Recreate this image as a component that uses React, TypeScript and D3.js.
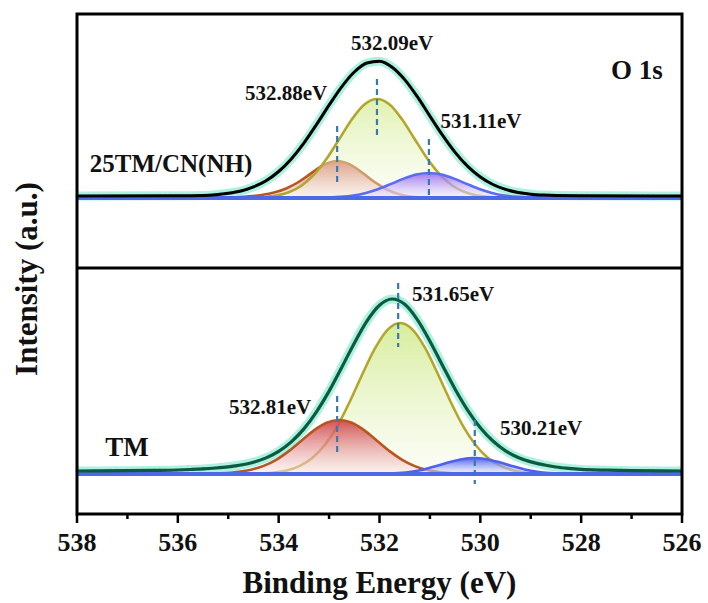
import React from 'react';
import * as d3 from 'd3';

// ---------- axis ----------
const majorTicks = [538, 536, 534, 532, 530, 528, 526];
const minorTicks = [537, 535, 533, 531, 529, 527];

// ---------- top panel: 25TM/CN(NH) ----------
const topEnvE = [538, 536, 535.5, 535.25, 535.0, 534.75, 534.5, 534.25, 534.0, 533.75, 533.5, 533.25, 533.0, 532.75, 532.5, 532.25, 532.0, 531.75, 531.5, 531.25, 531.0, 530.75, 530.5, 530.25, 530.0, 529.75, 529.5, 529.25, 529.0, 528.75, 528.5, 528, 526];
const topEnvI = [2.0, 2.2, 2.6, 3.3, 4.7, 7.0, 11.1, 17.3, 26.5, 39.1, 54.9, 73.4, 92.9, 111.2, 126.0, 135.0, 136.7, 130.8, 118.4, 101.3, 81.9, 62.8, 45.6, 31.6, 21.0, 13.5, 8.6, 5.5, 3.8, 2.9, 2.4, 2.2, 2.0];

const topGreenE = [534.8, 534.3, 534.05, 533.8, 533.55, 533.3, 533.05, 532.8, 532.55, 532.3, 532.05, 531.8, 531.55, 531.3, 531.05, 530.8, 530.55, 530.3, 530.05, 529.8, 529.3];
const topGreenI = [0, 0.9, 2.4, 5.8, 12.3, 23.3, 39.2, 58.8, 78.5, 93.5, 99, 93.5, 78.5, 58.8, 39.2, 23.3, 12.3, 5.8, 2.4, 0.9, 0];

const topRedE = [535.6, 535.09, 534.84, 534.59, 534.34, 534.09, 533.84, 533.59, 533.34, 533.09, 532.84, 532.59, 532.34, 532.09, 531.84, 531.59, 531.34, 531.09, 530.84, 530.59];
const topRedI = [0, 0.3, 0.8, 1.6, 3.0, 5.4, 9.8, 16.5, 25.3, 33.6, 37, 33.6, 25.3, 15.7, 8.1, 3.4, 1.2, 0.35, 0.1, 0];

const topBlueE = [533.5, 533.27, 533.02, 532.77, 532.52, 532.27, 532.02, 531.77, 531.52, 531.27, 531.02, 530.77, 530.52, 530.27, 530.02, 529.77, 529.52, 529.27, 529.02, 528.77, 528.5];
const topBlueI = [0, 0.1, 0.4, 1.1, 2.5, 5.1, 9.0, 14.1, 19.4, 23.5, 25, 23.5, 19.4, 14.1, 9.0, 5.1, 2.5, 1.1, 0.4, 0.1, 0];

const topPeakE = [532.05, 532.84, 531.02];
const topPeakText = ['532.09eV', '532.88eV', '531.11eV'];

// ---------- bottom panel: TM ----------
const botEnvE = [538, 537, 536.5, 536.0, 535.75, 535.5, 535.25, 535.0, 534.75, 534.5, 534.25, 534.0, 533.75, 533.5, 533.25, 533.0, 532.75, 532.5, 532.25, 532.0, 531.75, 531.5, 531.25, 531.0, 530.75, 530.5, 530.25, 530.0, 529.75, 529.5, 529.25, 529.0, 528.75, 528.5, 528.25, 528.0, 527.5, 527.0, 526];
const botEnvI = [3.0, 3.3, 3.6, 4.0, 4.5, 5.1, 6.0, 7.2, 9.0, 11.8, 16.1, 22.6, 32.1, 45.1, 62.2, 82.9, 106.5, 130.8, 152.9, 168.8, 175.0, 169.7, 154.4, 132.8, 108.5, 84.8, 63.7, 46.3, 33.0, 23.2, 16.5, 12.1, 9.2, 7.0, 5.6, 4.6, 3.8, 3.3, 3.0];

const botGreenE = [534.6, 534.09, 533.84, 533.59, 533.34, 533.09, 532.84, 532.59, 532.34, 532.09, 531.84, 531.59, 531.34, 531.09, 530.84, 530.59, 530.34, 530.09, 529.84, 529.59, 529.34, 529.09, 528.6];
const botGreenI = [0, 1.5, 3.6, 7.9, 15.8, 28.8, 47.7, 72.3, 99.8, 125.6, 144.2, 151, 144.2, 125.6, 99.8, 72.3, 47.7, 28.8, 15.8, 7.9, 3.6, 1.5, 0];

const botRedE = [535.8, 535.3, 535.05, 534.8, 534.55, 534.3, 534.05, 533.8, 533.55, 533.3, 533.05, 532.8, 532.55, 532.3, 532.05, 531.8, 531.55, 531.3, 531.05, 530.8, 530.55, 530.3];
const botRedI = [0, 0.4, 1.0, 2.2, 4.3, 8.1, 14.2, 22.9, 33.3, 43.6, 51.2, 54, 51.2, 43.6, 33.3, 22.9, 14.2, 7.9, 3.9, 1.8, 0.7, 0.25];

const botBlueE = [532.4, 532.12, 531.87, 531.62, 531.37, 531.12, 530.87, 530.62, 530.37, 530.12, 529.87, 529.62, 529.37, 529.12, 528.87, 528.62, 528.37, 528.12, 527.9];
const botBlueI = [0, 0.1, 0.35, 1.0, 2.3, 4.6, 7.9, 11.7, 14.8, 16, 14.8, 11.7, 7.9, 4.6, 2.3, 1.0, 0.35, 0.1, 0];

const botPeakE = [531.63, 532.84, 530.11];
const botPeakText = ['531.65eV', '532.81eV', '530.21eV'];

// ---------- layout ----------
const W = 708;
const H = 603;
const F = { left: 77, right: 682, top: 14, mid: 268, bottom: 514 };
const FONT = "'Liberation Serif', 'Times New Roman', Times, serif";

type Pt = [number, number];

export default function App() {
  const x = d3.scaleLinear().domain([538, 526]).range([F.left, F.right]);
  const yTop = d3.scaleLinear().domain([0, 184]).range([198, F.top]);
  const yBot = d3.scaleLinear().domain([0, 206]).range([474, F.mid]);

  const pts = (E: number[], I: number[]): Pt[] => E.map((e, i) => [e, I[i]] as Pt);

  const mkLine = (y: d3.ScaleLinear<number, number>) =>
    d3.line<Pt>().x(d => x(d[0])).y(d => y(d[1])).curve(d3.curveMonotoneX);
  const mkArea = (y: d3.ScaleLinear<number, number>) =>
    d3.area<Pt>().x(d => x(d[0])).y0(y(0)).y1(d => y(d[1])).curve(d3.curveMonotoneX);

  const comp = (E: number[], I: number[], y: d3.ScaleLinear<number, number>, fill: string, stroke: string, key: string) => {
    const p = pts(E, I);
    return (
      <g key={key}>
        <path d={mkArea(y)(p) || ''} fill={`url(#${fill})`} />
        <path d={mkLine(y)(p) || ''} fill="none" stroke={stroke} strokeWidth={2.6} />
      </g>
    );
  };

  const dataBand = (E: number[], I: number[], y: d3.ScaleLinear<number, number>) => {
    const d = mkLine(y)(pts(E, I)) || '';
    return (
      <g>
        <path d={d} fill="none" stroke="#adf1e0" strokeWidth={9} strokeLinejoin="round" />
        <path d={d} fill="none" stroke="#86e0c8" strokeWidth={4} strokeDasharray="0.5 5" strokeLinecap="round" opacity={0.7} />
      </g>
    );
  };

  const label = (t: string, cx: number, cy: number, size: number, key?: string) => (
    <text key={key} x={cx} y={cy} dy="0.34em" textAnchor="middle" fontFamily={FONT} fontWeight="bold" fontSize={size} fill="#111">
      {t}
    </text>
  );

  // annotation layout (pixel placement of texts and dash extents)
  const topLabelPos: [number, number][] = [[392, 43], [286, 93], [481, 121]];
  const topDash: [number, number][] = [[62, 119], [15, 72], [2, 59]];
  const botLabelPos: [number, number][] = [[453, 294], [270, 407], [541, 428]];
  const botDash: [number, number][] = [[127, 191], [21, 78], [-10, 54]];

  return (
    <svg width={W} height={H} style={{ position: 'absolute', left: 0, top: 0, background: '#fff' }}>
      <defs>
        <linearGradient id="gTopGreen" x1="0" y1="0" x2="0" y2="1">
          <stop offset="0" stopColor="#d2ec8c" stopOpacity={0.7} />
          <stop offset="1" stopColor="#f6fbe8" stopOpacity={0.35} />
        </linearGradient>
        <linearGradient id="gTopRed" x1="0" y1="0" x2="0" y2="1">
          <stop offset="0" stopColor="#cf4444" stopOpacity={0.9} />
          <stop offset="1" stopColor="#f9e4e4" stopOpacity={0.5} />
        </linearGradient>
        <linearGradient id="gTopBlue" x1="0" y1="0" x2="0" y2="1">
          <stop offset="0" stopColor="#9161f2" stopOpacity={0.85} />
          <stop offset="1" stopColor="#f1ebfd" stopOpacity={0.5} />
        </linearGradient>
        <linearGradient id="gBotGreen" x1="0" y1="0" x2="0" y2="1">
          <stop offset="0" stopColor="#d0ea8a" stopOpacity={0.85} />
          <stop offset="1" stopColor="#f8fbee" stopOpacity={0.5} />
        </linearGradient>
        <linearGradient id="gBotRed" x1="0" y1="0" x2="0" y2="1">
          <stop offset="0" stopColor="#cf3f42" stopOpacity={0.9} />
          <stop offset="1" stopColor="#fae8e8" stopOpacity={0.5} />
        </linearGradient>
        <linearGradient id="gBotBlue" x1="0" y1="0" x2="0" y2="1">
          <stop offset="0" stopColor="#3e52ee" stopOpacity={0.9} />
          <stop offset="1" stopColor="#e6e9fd" stopOpacity={0.5} />
        </linearGradient>
      </defs>

      {/* top panel */}
      {dataBand(topEnvE, topEnvI, yTop)}
      {comp(topRedE, topRedI, yTop, 'gTopRed', '#b8561f', 'tr')}
      {comp(topGreenE, topGreenI, yTop, 'gTopGreen', '#b3a62c', 'tg')}
      {comp(topBlueE, topBlueI, yTop, 'gTopBlue', '#5a6cf0', 'tb')}
      <line x1={x(538)} x2={x(526)} y1={yTop(0)} y2={yTop(0)} stroke="#4c69e8" strokeWidth={4} />
      <path d={mkLine(yTop)(pts(topEnvE, topEnvI)) || ''} fill="none" stroke="#000" strokeWidth={3} />
      {topPeakE.map((e, i) => (
        <line key={'td' + i} x1={x(e)} x2={x(e)} y1={yTop(topDash[i][1])} y2={yTop(topDash[i][0])} stroke="#3a78b2" strokeWidth={2.2} strokeDasharray="6 4" />
      ))}
      {topPeakText.map((t, i) => label(t, topLabelPos[i][0], topLabelPos[i][1], 21, 'tl' + i))}
      {label('O 1s', 637, 70, 27)}
      {label('25TM/CN(NH)', 171, 163, 25)}

      {/* bottom panel */}
      {dataBand(botEnvE, botEnvI, yBot)}
      {comp(botGreenE, botGreenI, yBot, 'gBotGreen', '#b3a62c', 'bg')}
      {comp(botRedE, botRedI, yBot, 'gBotRed', '#b8561f', 'br')}
      {comp(botBlueE, botBlueI, yBot, 'gBotBlue', '#4f62ee', 'bb')}
      <line x1={x(538)} x2={x(526)} y1={yBot(0)} y2={yBot(0)} stroke="#4c69e8" strokeWidth={4} />
      <path d={mkLine(yBot)(pts(botEnvE, botEnvI)) || ''} fill="none" stroke="#0d5a3f" strokeWidth={3.2} />
      {botPeakE.map((e, i) => (
        <line key={'bd' + i} x1={x(e)} x2={x(e)} y1={yBot(botDash[i][1])} y2={yBot(botDash[i][0])} stroke="#3a78b2" strokeWidth={2.2} strokeDasharray="6 4" />
      ))}
      {botPeakText.map((t, i) => label(t, botLabelPos[i][0], botLabelPos[i][1], 21, 'bl' + i))}
      {label('TM', 127, 447, 27)}

      {/* frame */}
      <rect x={F.left} y={F.top} width={F.right - F.left} height={F.bottom - F.top} fill="none" stroke="#000" strokeWidth={3} />
      <line x1={F.left} x2={F.right} y1={F.mid} y2={F.mid} stroke="#000" strokeWidth={3} />

      {/* x axis ticks */}
      {majorTicks.map(t => (
        <g key={'M' + t}>
          <line x1={x(t)} x2={x(t)} y1={F.bottom} y2={F.bottom + 9} stroke="#000" strokeWidth={2.5} />
          <text x={x(t)} y={551} textAnchor="middle" fontFamily={FONT} fontWeight="bold" fontSize={26} fill="#111">{t}</text>
        </g>
      ))}
      {minorTicks.map(t => (
        <line key={'m' + t} x1={x(t)} x2={x(t)} y1={F.bottom} y2={F.bottom + 5} stroke="#000" strokeWidth={2.5} />
      ))}

      <text x={(F.left + F.right) / 2} y={593} textAnchor="middle" fontFamily={FONT} fontWeight="bold" fontSize={31} fill="#111">
        Binding Energy (eV)
      </text>
      <text transform="translate(37,279) rotate(-90)" textAnchor="middle" fontFamily={FONT} fontWeight="bold" fontSize={31} fill="#111">
        Intensity (a.u.)
      </text>
    </svg>
  );
}
